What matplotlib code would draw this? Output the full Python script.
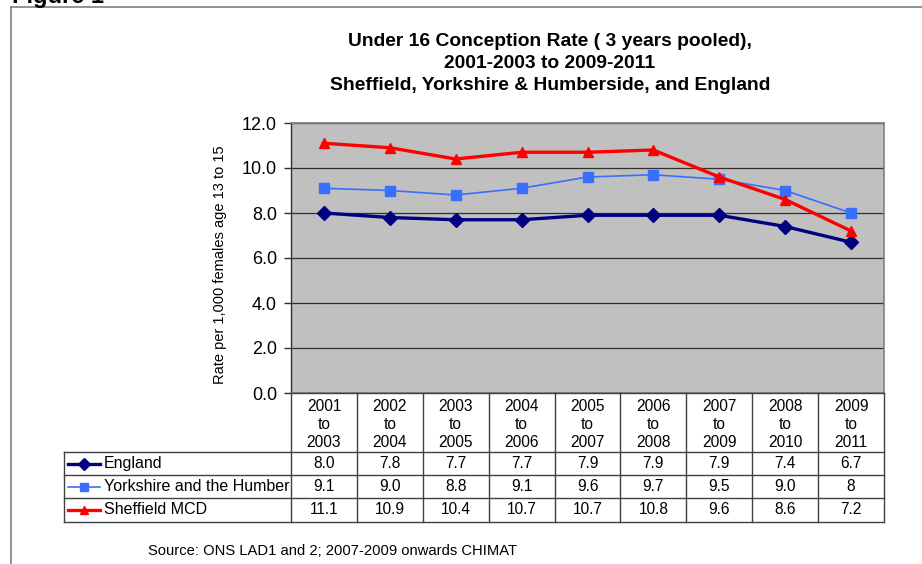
import matplotlib
matplotlib.use("Agg")
import matplotlib.pyplot as plt
from matplotlib.lines import Line2D

plt.rcParams['font.family'] = ['Liberation Sans', 'DejaVu Sans']

# ---------------- data ----------------
periods = ["2001\nto\n2003", "2002\nto\n2004", "2003\nto\n2005", "2004\nto\n2006",
           "2005\nto\n2007", "2006\nto\n2008", "2007\nto\n2009", "2008\nto\n2010",
           "2009\nto\n2011"]
england = [8.0, 7.8, 7.7, 7.7, 7.9, 7.9, 7.9, 7.4, 6.7]
yorkshire = [9.1, 9.0, 8.8, 9.1, 9.6, 9.7, 9.5, 9.0, 8.0]
sheffield = [11.1, 10.9, 10.4, 10.7, 10.7, 10.8, 9.6, 8.6, 7.2]
england_txt = ["8.0", "7.8", "7.7", "7.7", "7.9", "7.9", "7.9", "7.4", "6.7"]
yorkshire_txt = ["9.1", "9.0", "8.8", "9.1", "9.6", "9.7", "9.5", "9.0", "8"]
sheffield_txt = ["11.1", "10.9", "10.4", "10.7", "10.7", "10.8", "9.6", "8.6", "7.2"]
series_names = ["England", "Yorkshire and the Humber", "Sheffield MCD"]
yticks = [0, 2, 4, 6, 8, 10, 12]

# ---------------- layout (pixels) ----------------
W, H = 922, 564
PL, PR, PT, PB = 291, 884, 123, 393       # plot area
TL, TB = 64, 522                          # table left / bottom
ROW_Y = [393, 452, 475, 498, 522]         # table row boundaries

def fx(px):
    return px / W

def fy(py):
    return 1 - py / H

fig = plt.figure(figsize=(W / 100, H / 100), dpi=100)
fig.patch.set_facecolor("white")

# outer frame (top and left)
fig.add_artist(Line2D([fx(11), fx(W)], [fy(7), fy(7)], color="#808080", lw=1.2))
fig.add_artist(Line2D([fx(11), fx(11)], [fy(7), fy(H)], color="#808080", lw=1.2))
fig.text(fx(12), fy(3), "Figure 1", fontsize=17, fontweight="bold", ha="left", va="baseline")

styles = [
    dict(color="#000080", lw=2.4, marker="D", ms=7.5),
    dict(color="#3A6EFF", lw=1.2, marker="s", ms=7),
    dict(color="#FF0000", lw=2.4, marker="^", ms=7.5),
]
data = [england, yorkshire, sheffield]
texts = [england_txt, yorkshire_txt, sheffield_txt]

# ---------------- main plot ----------------
ax = fig.add_axes([fx(PL), fy(PB), fx(PR - PL), (PB - PT) / H])
ax.set_facecolor("#C0C0C0")
x = list(range(len(periods)))
for vals, st in zip(data, styles):
    ax.plot(x, vals, color=st["color"], lw=st["lw"], marker=st["marker"],
            ms=st["ms"], markerfacecolor=st["color"], markeredgecolor=st["color"],
            zorder=3)
ax.set_xlim(-0.5, len(periods) - 0.5)
ax.set_ylim(0, 12)
ax.set_yticks(yticks)
ax.set_yticklabels([f"{v:.1f}" for v in yticks])
ax.set_xticks([])
ax.grid(axis="y", color="#303030", lw=0.9)
ax.set_axisbelow(True)
for s in ["top", "right", "bottom"]:
    ax.spines[s].set_color("#808080")
    ax.spines[s].set_linewidth(1.2)
ax.spines["left"].set_color("#303030")
ax.spines["left"].set_linewidth(1.0)
ax.tick_params(axis="y", direction="out", length=5, width=1, color="#303030",
               labelsize=13, pad=5)

fig.text(fx(220), fy(265), "Rate per 1,000 females age 13 to 15", rotation=90,
         ha="center", va="center", fontsize=10.5)

# title
fig.text(fx(550), fy(33),
         "Under 16 Conception Rate ( 3 years pooled),\n2001-2003 to 2009-2011\nSheffield, Yorkshire & Humberside, and England",
         ha="center", va="top", fontsize=13.9, fontweight="bold", linespacing=1.38)

# ---------------- data table ----------------
upx = (PR - PL) / len(periods)            # pixels per category
tab = fig.add_axes([fx(TL), fy(TB), fx(PR - TL), (TB - PB) / H])
x_left = -0.5 - (PL - TL) / upx
tab.set_xlim(x_left, len(periods) - 0.5)
tab.set_ylim(TB, PB)
tab.axis("off")

edge = "#404040"
# vertical lines for category columns
for i in range(len(periods) + 1):
    tab.plot([i - 0.5, i - 0.5], [ROW_Y[0], ROW_Y[-1]], color=edge, lw=1.0, clip_on=False)
# horizontal lines
tab.plot([-0.5, len(periods) - 0.5], [ROW_Y[0], ROW_Y[0]], color=edge, lw=1.0, clip_on=False)
for yb in ROW_Y[1:]:
    tab.plot([x_left, len(periods) - 0.5], [yb, yb], color=edge, lw=1.0, clip_on=False)
tab.plot([x_left, x_left], [ROW_Y[1], ROW_Y[-1]], color=edge, lw=1.0, clip_on=False)

# header text
for i, lab in enumerate(periods):
    tab.text(i, (ROW_Y[0] + ROW_Y[1]) / 2 + 2, lab, ha="center", va="center",
             fontsize=11.2, linespacing=1.25)

# rows
for r, (name, vals_txt, st) in enumerate(zip(series_names, texts, styles)):
    yc = (ROW_Y[r + 1] + ROW_Y[r + 2]) / 2
    for i, t in enumerate(vals_txt):
        tab.text(i, yc, t, ha="center", va="center", fontsize=11.2)
    # legend key
    x0 = x_left + (68 - TL) / upx
    x1 = x_left + (100 - TL) / upx
    tab.plot([x0, x1], [yc, yc], color=st["color"], lw=st["lw"], clip_on=False)
    tab.plot([(x0 + x1) / 2], [yc], marker=st["marker"], color=st["color"],
             ms=st["ms"] * 0.75, clip_on=False)
    tab.text(x_left + (104 - TL) / upx, yc, name, ha="left", va="center", fontsize=11.5)

# source
fig.text(fx(148), fy(551), "Source: ONS LAD1 and 2; 2007-2009 onwards CHIMAT",
         ha="left", va="center", fontsize=10.6)

fig.savefig("out.png", dpi=100)
